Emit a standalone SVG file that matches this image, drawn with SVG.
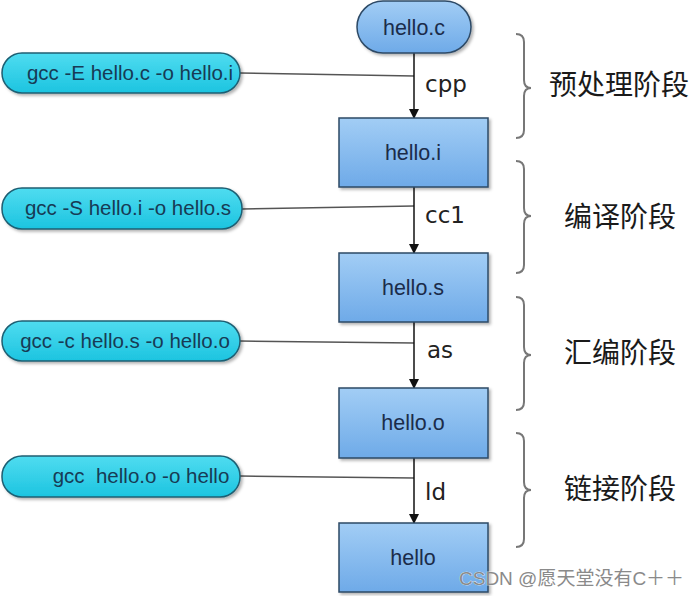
<svg xmlns="http://www.w3.org/2000/svg" width="695" height="596" viewBox="0 0 695 596">
<defs>
<linearGradient id="gBlue" x1="0" y1="0" x2="0" y2="1">
<stop offset="0" stop-color="#a2cdf5"/>
<stop offset="1" stop-color="#6eaae8"/>
</linearGradient>
<linearGradient id="gCyan" x1="0" y1="0" x2="0" y2="1">
<stop offset="0" stop-color="#4fdcf0"/>
<stop offset="1" stop-color="#1cc4e0"/>
</linearGradient>
<marker id="arr" markerWidth="10" markerHeight="10" refX="9" refY="5" orient="auto" markerUnits="userSpaceOnUse">
<path d="M0,0 L10,5 L0,10 Z" fill="#111"/>
</marker>
<filter id="sh" x="-10%" y="-10%" width="130%" height="140%">
<feDropShadow dx="2" dy="2" stdDeviation="1.5" flood-color="#000" flood-opacity="0.3"/>
</filter>
</defs>
<style>
.box{fill:url(#gBlue);stroke:#2d4a66;stroke-width:1.5;filter:url(#sh)}
.cmd{fill:url(#gCyan);stroke:#1f5f73;stroke-width:1.5;filter:url(#sh)}
.bt{font-family:"Liberation Sans",Arial,sans-serif;font-size:21.5px;fill:#1b2c4a;text-anchor:middle}
.ct{font-family:"Liberation Sans",Arial,sans-serif;font-size:20.5px;fill:#173b55;text-anchor:middle}
.lbl{font-family:"DejaVu Sans","Liberation Sans",sans-serif;font-size:23px;fill:#222}
.stage{font-family:"Noto Sans CJK SC","Noto Sans CJK JP",sans-serif;font-size:28px;fill:#1a1a1a}
.arrow{stroke:#111;stroke-width:1.5;fill:none;marker-end:url(#arr)}
.link{stroke:#555;stroke-width:1.5;fill:none}
.brace{stroke:#777;stroke-width:2;fill:none}
.wm{font-family:"Liberation Sans","Noto Sans CJK SC",sans-serif;font-size:19px;fill:#8a8a8a;stroke:#fff;stroke-width:0.6;paint-order:stroke}
</style>
<rect width="695" height="596" fill="#fff"/>
<g id="connectors">
<line class="link" x1="240" y1="73" x2="414" y2="76"/>
<line class="link" x1="242" y1="209" x2="414" y2="206"/>
<line class="link" x1="240" y1="341" x2="414" y2="343"/>
<line class="link" x1="240" y1="476" x2="414" y2="478"/>
<line class="arrow" x1="414" y1="53" x2="414" y2="118"/>
<line class="arrow" x1="414" y1="187" x2="414" y2="253"/>
<line class="arrow" x1="414" y1="322" x2="414" y2="388"/>
<line class="arrow" x1="414" y1="458" x2="414" y2="523"/>
<text class="lbl" x="425" y="92">cpp</text>
<text class="lbl" x="425" y="223">cc1</text>
<text class="lbl" x="427" y="358">as</text>
<text class="lbl" x="425" y="500">ld</text>
</g>
<g id="hello_c">
<rect class="box" x="357" y="1" width="114" height="52" rx="26"/>
<text class="bt" x="414" y="35">hello.c</text>
</g>
<g id="hello_i">
<rect class="box" x="339" y="118" width="149" height="69"/>
<text class="bt" x="413" y="160">hello.i</text>
</g>
<g id="hello_s">
<rect class="box" x="339" y="253" width="149" height="69"/>
<text class="bt" x="413" y="295">hello.s</text>
</g>
<g id="hello_o">
<rect class="box" x="339" y="388" width="149" height="70"/>
<text class="bt" x="413" y="430">hello.o</text>
</g>
<g id="hello">
<rect class="box" x="339" y="523" width="149" height="69"/>
<text class="bt" x="413" y="565">hello</text>
</g>
<g id="cmd_E">
<rect class="cmd" x="2" y="53" width="238" height="40" rx="20"/>
<text class="ct" x="130" y="80">gcc -E hello.c -o hello.i</text>
</g>
<g id="cmd_S">
<rect class="cmd" x="2" y="188" width="240" height="41" rx="20"/>
<text class="ct" x="128" y="215">gcc -S hello.i -o hello.s</text>
</g>
<g id="cmd_c">
<rect class="cmd" x="2" y="321" width="238" height="40" rx="20"/>
<text class="ct" x="125" y="348">gcc -c hello.s -o hello.o</text>
</g>
<g id="cmd_link">
<rect class="cmd" x="2" y="456" width="238" height="41" rx="20"/>
<text class="ct" x="141" y="483" xml:space="preserve">gcc  hello.o -o hello</text>
</g>
<g id="stage_pre">
<path class="brace" d="M516,34 Q524,34 524,42 L524,80 Q524,88 531,88 Q524,88 524,96 L524,130 Q524,138 516,138"/>
<text class="stage" x="549" y="95">预处理阶段</text>
</g>
<g id="stage_compile">
<path class="brace" d="M516,161 Q524,161 524,169 L524,208 Q524,216 531,216 Q524,216 524,224 L524,265 Q524,273 516,273"/>
<text class="stage" x="564" y="227">编译阶段</text>
</g>
<g id="stage_asm">
<path class="brace" d="M516,297 Q524,297 524,305 L524,347 Q524,355 531,355 Q524,355 524,363 L524,402 Q524,410 516,410"/>
<text class="stage" x="564" y="363">汇编阶段</text>
</g>
<g id="stage_link">
<path class="brace" d="M516,433 Q524,433 524,441 L524,482 Q524,490 531,490 Q524,490 524,498 L524,539 Q524,547 516,547"/>
<text class="stage" x="564" y="499">链接阶段</text>
</g>
<text class="wm" x="459" y="585">CSDN @愿天堂没有C＋＋</text>
</svg>
